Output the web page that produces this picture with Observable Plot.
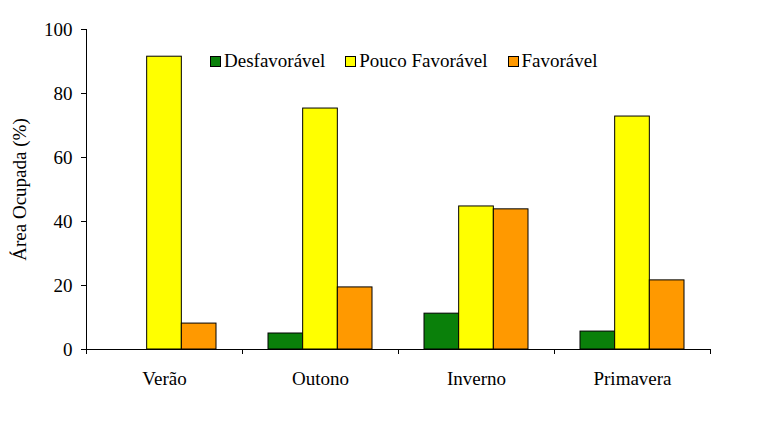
<!DOCTYPE html>
<html>
<head>
<meta charset="utf-8">
<script src="https://cdn.jsdelivr.net/npm/d3@7"></script>
<script src="https://cdn.jsdelivr.net/npm/@observablehq/plot@0.6"></script>
<style>
  html, body { margin: 0; padding: 0; background: #fff; }
  #wrap { position: relative; width: 770px; height: 426px; font-family: "Liberation Serif", "Times New Roman", serif; }
  #legend { position: absolute; left: 210px; top: 50px; display: flex; align-items: center; font-size: 19px; color: #000; white-space: nowrap; }
  #legend .item { display: flex; align-items: center; margin-right: 20px; }
  #legend .sw { width: 9px; height: 9px; border: 1px solid #000; margin-right: 3px; }
</style>
</head>
<body>
<div id="wrap"><div id="legend"></div></div>
<script>
const seasons = ["Verão", "Outono", "Inverno", "Primavera"];
const categories = ["Desfavorável", "Pouco Favorável", "Favorável"];
const colors = ["#0a800a", "#ffff00", "#ff9900"];
const desfavoravel = [0, 5.0, 11.2, 5.6];
const poucoFavoravel = [91.5, 75.3, 44.7, 72.8];
const favoravel = [8.1, 19.4, 43.8, 21.6];
const yTicks = [0, 20, 40, 60, 80, 100];

const series = [desfavoravel, poucoFavoravel, favoravel];
const rows = [];
seasons.forEach((s, i) => categories.forEach((c, k) => rows.push({season: s, si: i, cat: c, ci: k, value: series[k][i]})));

// group layout in band units (each season = 1 unit)
const outer = 1 / 6, barW = 2 / 9;

const chart = Plot.plot({
  width: 770,
  height: 426,
  marginLeft: 86,
  marginRight: 60,
  marginTop: 29,
  marginBottom: 77,
  style: {fontFamily: "'Liberation Serif', 'Times New Roman', serif", fontSize: "19px", color: "#000", background: "#fff"},
  x: {domain: [0, seasons.length]},
  y: {domain: [0, 100]},
  color: {domain: categories, range: colors},
  marks: [
    Plot.rectY(rows.filter(d => d.value > 0), {
      x1: d => d.si + outer + d.ci * barW,
      x2: d => d.si + outer + (d.ci + 1) * barW,
      y1: 0,
      y2: "value",
      fill: "cat",
      stroke: "#000",
      strokeWidth: 1
    }),
    Plot.ruleX([0], {stroke: "#000"}),
    Plot.ruleY([0], {stroke: "#000"}),
    Plot.axisY({ticks: yTicks, tickSize: 5, tickPadding: 9, label: null, stroke: "#000", fontSize: 19}),
    Plot.axisX({ticks: d3.range(seasons.length + 1), tickSize: 5, tickFormat: () => "", label: null, stroke: "#000"}),
    Plot.axisX({ticks: seasons.map((s, i) => i + 0.5), tickSize: 0, tickPadding: 22, tickFormat: v => seasons[Math.floor(v)], label: null, fontSize: 19}),
    Plot.text(["Área Ocupada (%)"], {frameAnchor: "left", textAnchor: "middle", dx: -67, rotate: -90, fontSize: 19, fill: "#000"})
  ]
});
document.getElementById("wrap").prepend(chart);

const legend = document.getElementById("legend");
categories.forEach((c, k) => {
  const it = document.createElement("div");
  it.className = "item";
  const sw = document.createElement("div");
  sw.className = "sw";
  sw.style.background = colors[k];
  const t = document.createElement("span");
  t.textContent = c;
  it.append(sw, t);
  legend.append(it);
});
</script>
</body>
</html>
